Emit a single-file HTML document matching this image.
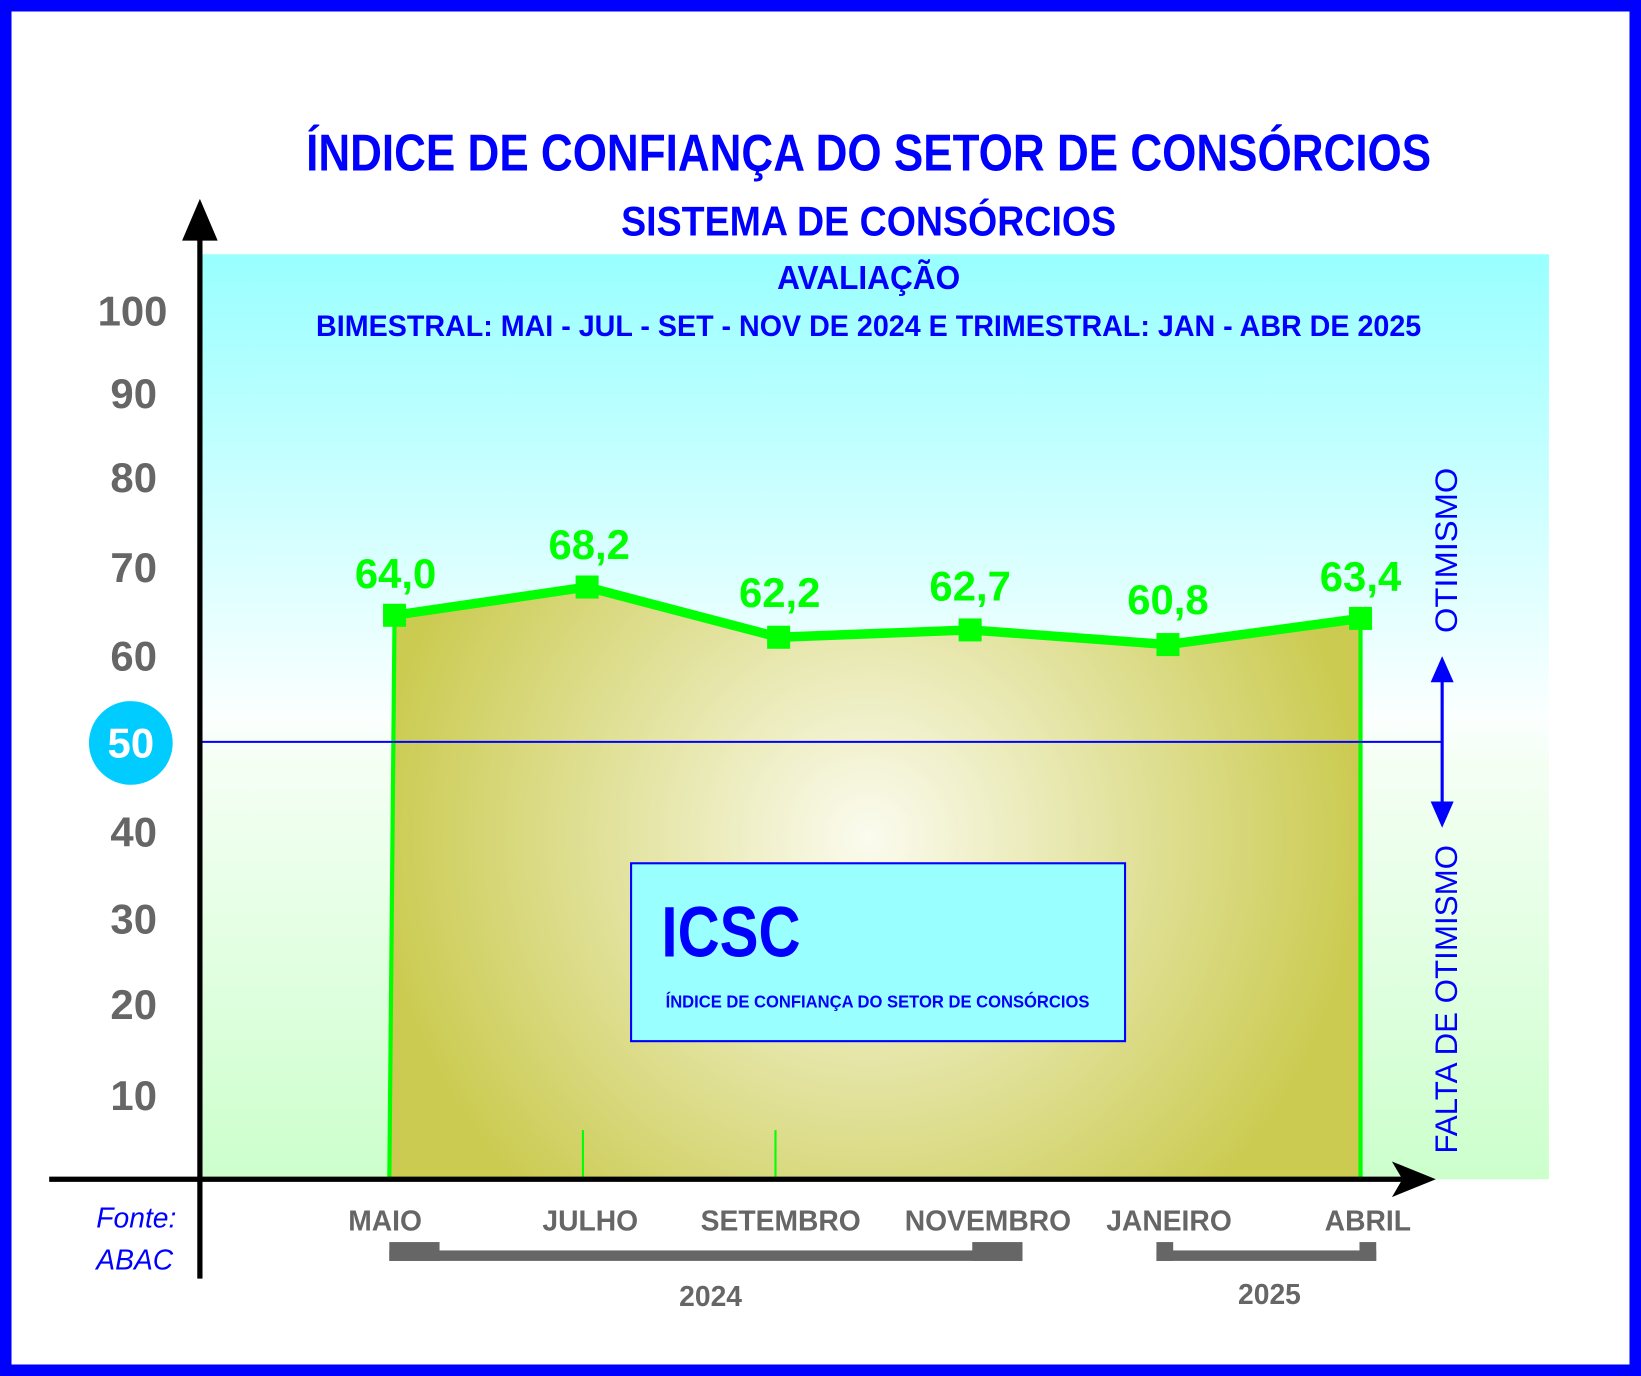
<!DOCTYPE html>
<html><head><meta charset="utf-8"><style>
html,body{margin:0;padding:0;background:#fff;}
svg{display:block;}
text{font-family:"Liberation Sans",Arial,sans-serif;}
</style></head><body>
<svg width="1641" height="1376" viewBox="0 0 1568 1315" preserveAspectRatio="none" xmlns="http://www.w3.org/2000/svg">
<defs>
<linearGradient id="bg" x1="0" y1="0" x2="0" y2="1">
<stop offset="0" stop-color="#99ffff"/>
<stop offset="0.5" stop-color="#fbffff"/>
<stop offset="0.55" stop-color="#f4fff4"/>
<stop offset="1" stop-color="#ccffcc"/>
</linearGradient>
<radialGradient id="fill" cx="830" cy="800" r="470" gradientUnits="userSpaceOnUse">
<stop offset="0" stop-color="#fbfbef"/>
<stop offset="1" stop-color="#cbcb52"/>
</radialGradient>
</defs>
<rect x="5.5" y="5.5" width="1557" height="1304" fill="#fff" stroke="#0000ff" stroke-width="11"/>
<rect x="193" y="243" width="1287" height="884" fill="url(#bg)"/>
<text x="830" y="163" text-anchor="middle" font-size="50" font-weight="bold" fill="#0000ff" textLength="1075" lengthAdjust="spacingAndGlyphs">ÍNDICE DE CONFIANÇA DO SETOR DE CONSÓRCIOS</text>
<text x="830" y="225" text-anchor="middle" font-size="40" font-weight="bold" fill="#0000ff" textLength="473" lengthAdjust="spacingAndGlyphs">SISTEMA DE CONSÓRCIOS</text>
<text x="830" y="276" text-anchor="middle" font-size="32" font-weight="bold" fill="#0000ff" textLength="175" lengthAdjust="spacingAndGlyphs">AVALIAÇÃO</text>
<text x="830" y="321" text-anchor="middle" font-size="28" font-weight="bold" fill="#0000ff" textLength="1056" lengthAdjust="spacingAndGlyphs">BIMESTRAL: MAI - JUL - SET - NOV DE 2024 E TRIMESTRAL: JAN - ABR DE 2025</text>
<polygon points="372,1127 377,588 561,561 744,609 927,602 1116,616 1300,591 1300,1127" fill="url(#fill)"/>
<line x1="557" y1="1080" x2="557" y2="1127" stroke="#00ff00" stroke-width="2"/>
<line x1="741" y1="1080" x2="741" y2="1127" stroke="#00ff00" stroke-width="2"/>
<line x1="372" y1="1127" x2="377" y2="588" stroke="#00ff00" stroke-width="4"/>
<line x1="1300" y1="1127" x2="1300" y2="591" stroke="#00ff00" stroke-width="4"/>
<polyline points="377,588 561,561 744,609 927,602 1116,616 1300,591" fill="none" stroke="#00ff00" stroke-width="9" stroke-linejoin="round"/>
<g fill="#00ff00">
<rect x="366" y="577" width="22" height="22"/><rect x="550" y="550" width="22" height="22"/>
<rect x="733" y="598" width="22" height="22"/><rect x="916" y="591" width="22" height="22"/>
<rect x="1105" y="605" width="22" height="22"/><rect x="1289" y="580" width="22" height="22"/>
</g>
<g font-size="40" font-weight="bold" fill="#00ff00" text-anchor="middle">
<text x="378" y="562">64,0</text><text x="563" y="534">68,2</text><text x="745" y="580">62,2</text>
<text x="927" y="574">62,7</text><text x="1116" y="587">60,8</text><text x="1300" y="565">63,4</text>
</g>
<line x1="193" y1="709" x2="1378" y2="709" stroke="#0000ff" stroke-width="2"/>
<line x1="1378" y1="640" x2="1378" y2="778" stroke="#0000ff" stroke-width="3"/>
<polygon points="1378,627 1367,652 1389,652" fill="#0000ff"/>
<polygon points="1378,791 1367,766 1389,766" fill="#0000ff"/>
<text transform="translate(1392,526) rotate(-90)" text-anchor="middle" font-size="30" fill="#0000ff" textLength="158" lengthAdjust="spacingAndGlyphs">OTIMISMO</text>
<text transform="translate(1392,955) rotate(-90)" text-anchor="middle" font-size="30" fill="#0000ff" textLength="295" lengthAdjust="spacingAndGlyphs">FALTA DE OTIMISMO</text>
<rect x="603" y="825" width="472" height="170" fill="#99ffff" stroke="#0000ff" stroke-width="2"/>
<text x="632" y="914" font-size="68" font-weight="bold" fill="#0000ff" textLength="133" lengthAdjust="spacingAndGlyphs">ICSC</text>
<text x="636" y="963" font-size="17" font-weight="bold" fill="#0000ff" textLength="405" lengthAdjust="spacingAndGlyphs">ÍNDICE DE CONFIANÇA DO SETOR DE CONSÓRCIOS</text>
<line x1="191" y1="1222" x2="191" y2="220" stroke="#000" stroke-width="5"/>
<polygon points="191,190 174,230 208,230" fill="#000"/>
<line x1="47" y1="1127" x2="1340" y2="1127" stroke="#000" stroke-width="5"/>
<polygon points="1372,1127 1330,1110 1340,1127 1330,1144" fill="#000"/>
<g font-size="40" font-weight="bold" fill="#666" text-anchor="end">
<text x="160" y="311">100</text><text x="150" y="390">90</text><text x="150" y="470">80</text>
<text x="150" y="556">70</text><text x="150" y="641">60</text><text x="150" y="809">40</text>
<text x="150" y="892">30</text><text x="150" y="974">20</text><text x="150" y="1061">10</text>
</g>
<circle cx="125" cy="710" r="40" fill="#00ccff"/>
<text x="125" y="724" text-anchor="middle" font-size="40" font-weight="bold" fill="#fff">50</text>
<g font-size="27" font-weight="bold" fill="#666" text-anchor="middle">
<text x="368" y="1176">MAIO</text><text x="564" y="1176">JULHO</text><text x="746" y="1176">SETEMBRO</text>
<text x="944" y="1176">NOVEMBRO</text><text x="1117" y="1176">JANEIRO</text><text x="1307" y="1176">ABRIL</text>
<text x="679" y="1248">2024</text><text x="1213" y="1246">2025</text>
</g>
<g fill="#666">
<rect x="372" y="1195" width="605" height="10"/><rect x="372" y="1187" width="48" height="18"/><rect x="929" y="1187" width="48" height="18"/>
<rect x="1105" y="1195" width="210" height="10"/><rect x="1105" y="1187" width="16" height="18"/><rect x="1299" y="1187" width="16" height="18"/>
</g>
<text x="92" y="1173" font-size="27" font-style="italic" fill="#0000ff">Fonte:</text>
<text x="92" y="1213" font-size="27" font-style="italic" fill="#0000ff">ABAC</text>
</svg>
</body></html>
